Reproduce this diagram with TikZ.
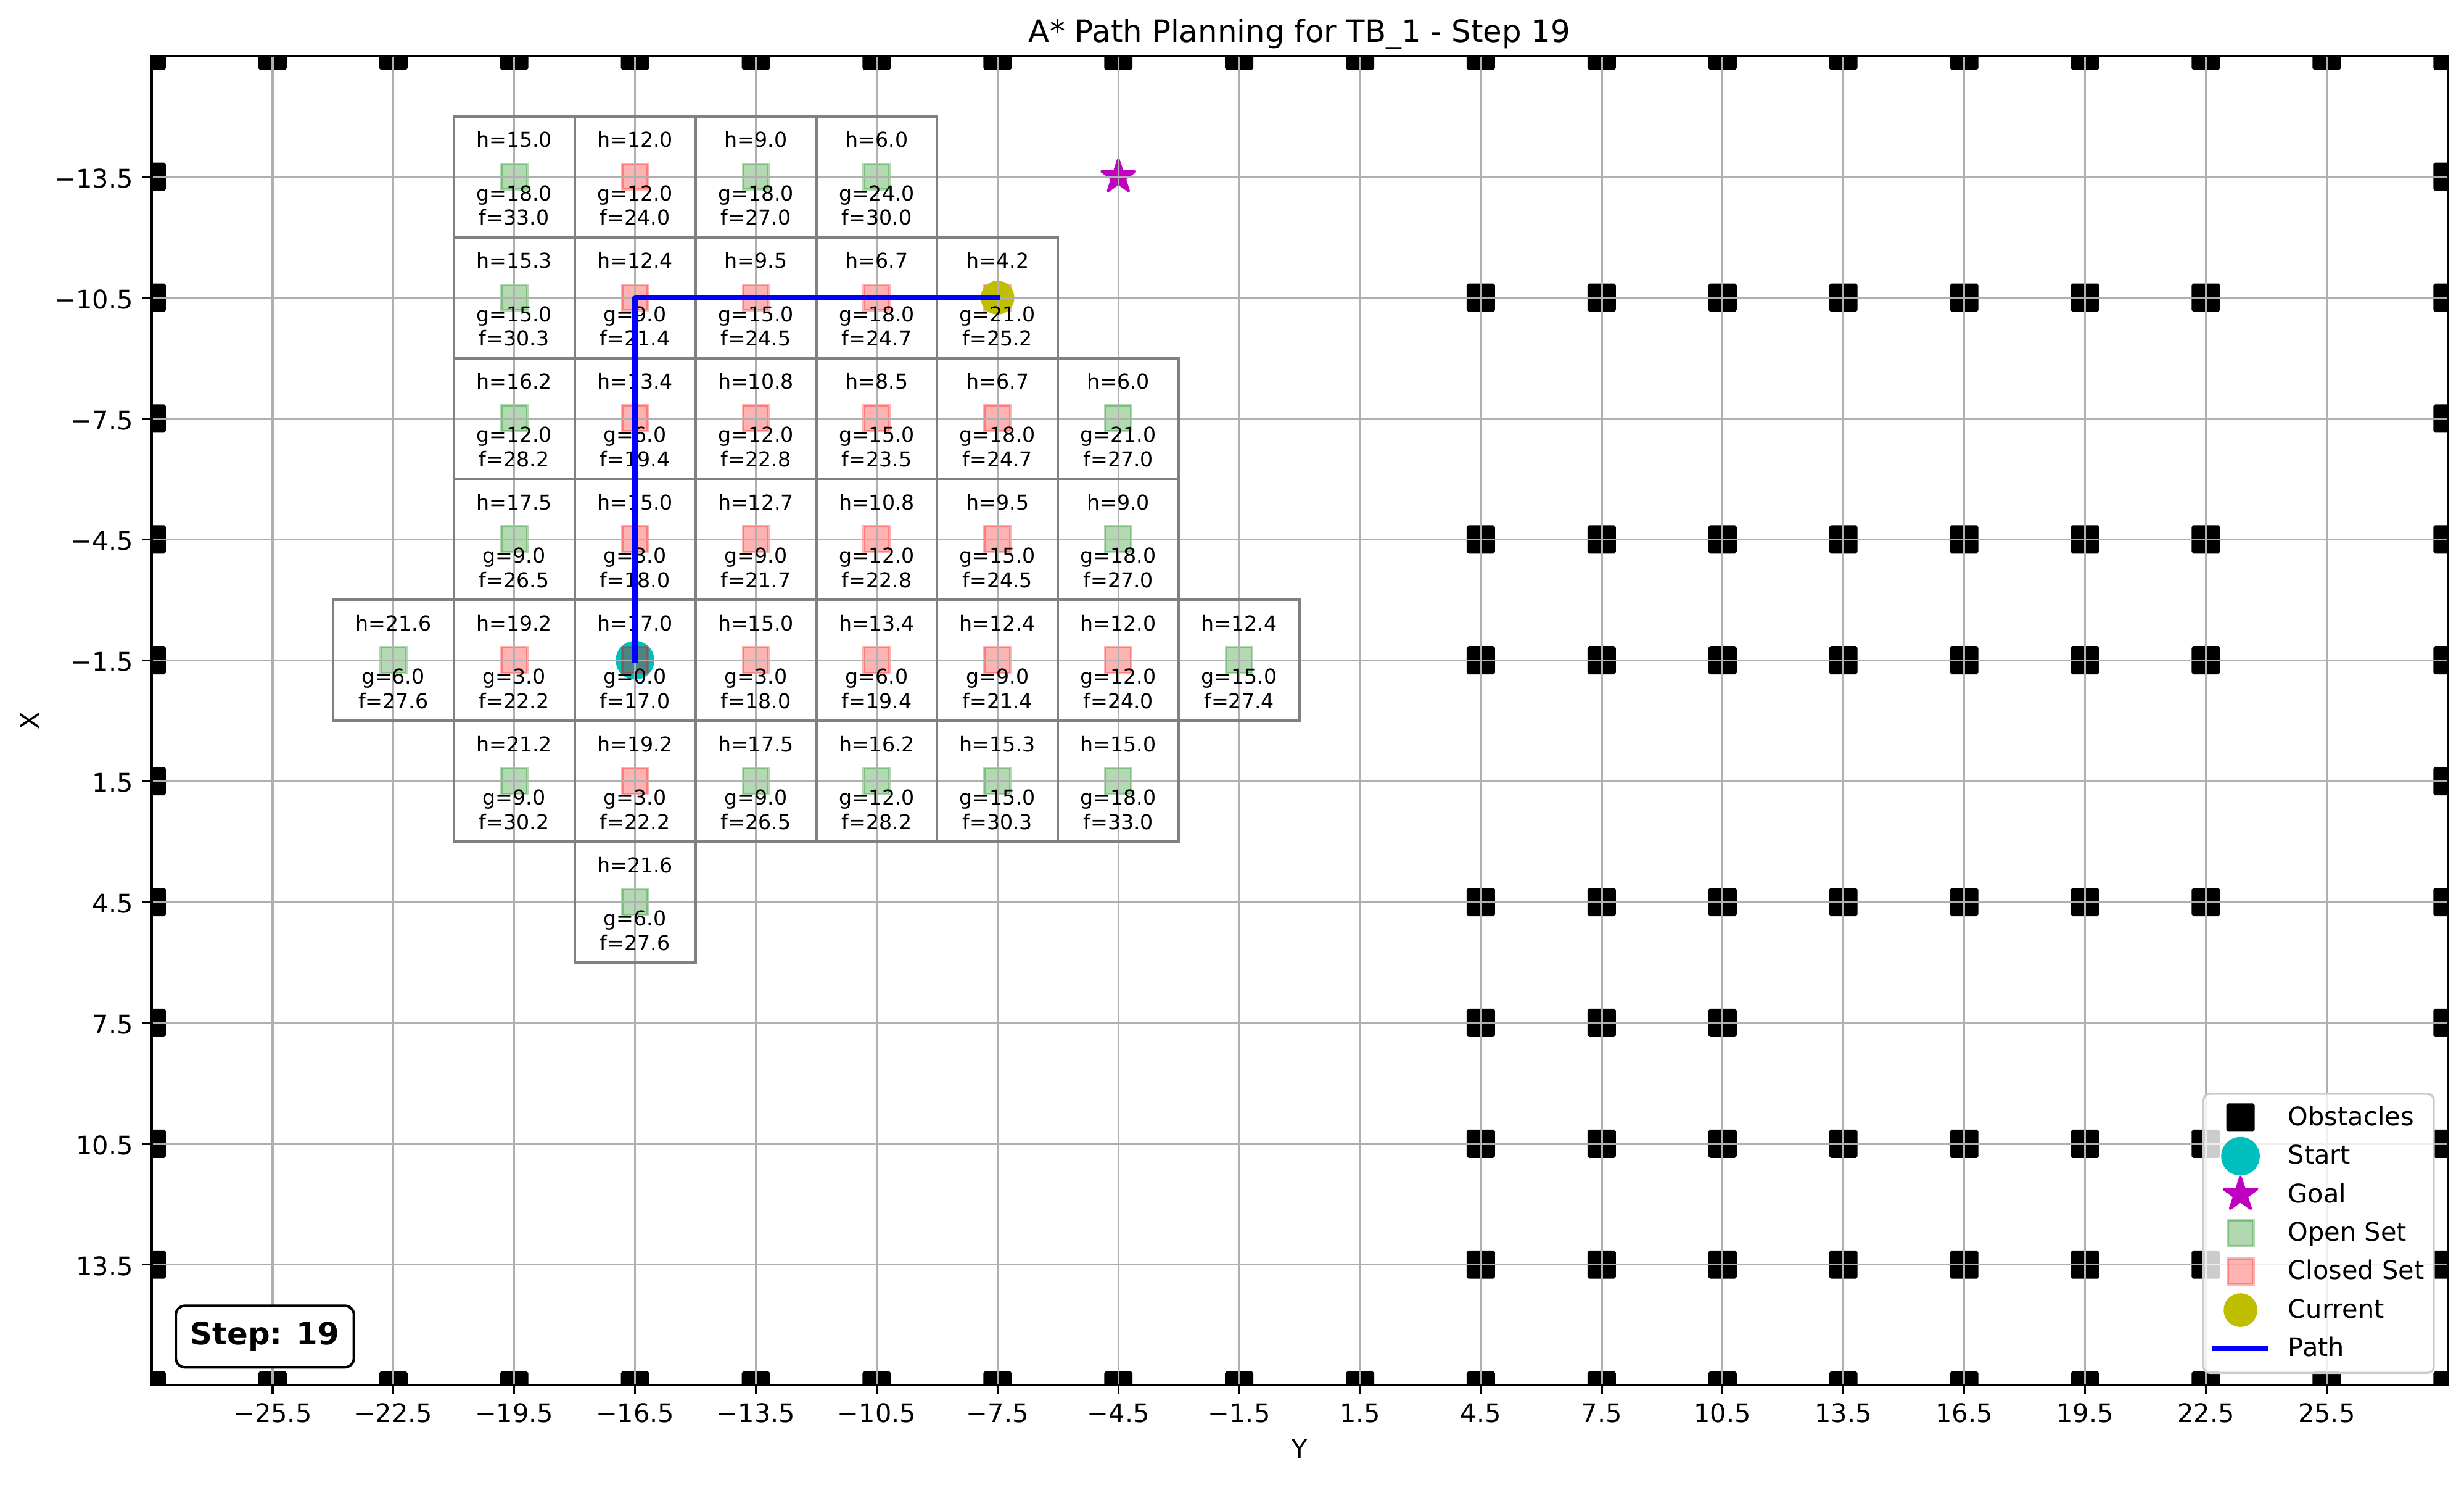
\documentclass[tikz,border=0pt]{standalone}
\usepackage{fontspec}
\setmainfont{DejaVu Sans}
\usepackage{tikz}
\usetikzlibrary{shapes.geometric}
\definecolor{mplGreen}{rgb}{0,0.5,0}
\definecolor{mplRed}{rgb}{1,0,0}
\definecolor{mplCyan}{rgb}{0,0.75,0.75}
\definecolor{mplMagenta}{rgb}{0.75,0,0.75}
\definecolor{mplYellow}{rgb}{0.75,0.75,0}
\definecolor{gridGray}{HTML}{B0B0B0}
\definecolor{boxGray}{HTML}{808080}
\definecolor{legEdge}{HTML}{CCCCCC}
% x / y / set / h / g / f
\newcommand\cellData{-19.5/-13.5/mplGreen/15.0/18.0/33.0,-16.5/-13.5/mplRed/12.0/12.0/24.0,
  -13.5/-13.5/mplGreen/9.0/18.0/27.0,-10.5/-13.5/mplGreen/6.0/24.0/30.0,
  -19.5/-10.5/mplGreen/15.3/15.0/30.3,-16.5/-10.5/mplRed/12.4/9.0/21.4,-13.5/-10.5/mplRed/9.5/15.0/24.5,
  -10.5/-10.5/mplRed/6.7/18.0/24.7,-7.5/-10.5/mplRed/4.2/21.0/25.2,
  -19.5/-7.5/mplGreen/16.2/12.0/28.2,-16.5/-7.5/mplRed/13.4/6.0/19.4,-13.5/-7.5/mplRed/10.8/12.0/22.8,
  -10.5/-7.5/mplRed/8.5/15.0/23.5,-7.5/-7.5/mplRed/6.7/18.0/24.7,-4.5/-7.5/mplGreen/6.0/21.0/27.0,
  -19.5/-4.5/mplGreen/17.5/9.0/26.5,-16.5/-4.5/mplRed/15.0/3.0/18.0,-13.5/-4.5/mplRed/12.7/9.0/21.7,
  -10.5/-4.5/mplRed/10.8/12.0/22.8,-7.5/-4.5/mplRed/9.5/15.0/24.5,-4.5/-4.5/mplGreen/9.0/18.0/27.0,
  -22.5/-1.5/mplGreen/21.6/6.0/27.6,-19.5/-1.5/mplRed/19.2/3.0/22.2,-16.5/-1.5/mplRed/17.0/0.0/17.0,
  -13.5/-1.5/mplRed/15.0/3.0/18.0,-10.5/-1.5/mplRed/13.4/6.0/19.4,-7.5/-1.5/mplRed/12.4/9.0/21.4,
  -4.5/-1.5/mplRed/12.0/12.0/24.0,-1.5/-1.5/mplGreen/12.4/15.0/27.4,
  -19.5/1.5/mplGreen/21.2/9.0/30.2,-16.5/1.5/mplRed/19.2/3.0/22.2,-13.5/1.5/mplGreen/17.5/9.0/26.5,
  -10.5/1.5/mplGreen/16.2/12.0/28.2,-7.5/1.5/mplGreen/15.3/15.0/30.3,-4.5/1.5/mplGreen/15.0/18.0/33.0,
  -16.5/4.5/mplGreen/21.6/6.0/27.6}
\newcommand\wallRows{-10.5,-4.5,-1.5,4.5,10.5,13.5}
\newcommand\xTicks{-25.5,-22.5,-19.5,-16.5,-13.5,-10.5,-7.5,-4.5,-1.5,1.5,4.5,7.5,10.5,13.5,16.5,19.5,22.5,25.5}
\newcommand\yTicks{-13.5,-10.5,-7.5,-4.5,-1.5,1.5,4.5,7.5,10.5,13.5}

\begin{document}
\begin{tikzpicture}[x=0.5529cm,y=-0.5529cm,font=\fontsize{8}{9.6}\selectfont,
    obst/.style={fill=black,draw=black,line width=1pt,minimum size=0.354cm,inner sep=0,rounded corners=0.4pt},
    sq/.style={draw=#1,fill=#1,fill opacity=0.3,draw opacity=0.3,line width=1pt,minimum size=0.354cm,inner sep=0},
    cellbox/.style={draw=boxGray,line width=1pt,minimum size=1.6586cm,inner sep=0},
    celltxt/.style={anchor=base,inner sep=0},
    gridln/.style={gridGray,line width=0.8pt},
    tickln/.style={black,line width=0.8pt},
    pathln/.style={blue,line width=2pt,line cap=rect,line join=round},
    startpt/.style={circle,fill=mplCyan,minimum size=0.53cm,inner sep=0},
    goalpt/.style={star,star points=5,star point ratio=2.618,fill=mplMagenta,draw=mplMagenta,
      line width=1pt,line join=round,minimum size=0.48cm,inner sep=0},
    currpt/.style={circle,fill=mplYellow,minimum size=0.463cm,inner sep=0},
    ticklbl/.style={font=\fontsize{10}{12}\selectfont,inner sep=0},
    legtxt/.style={font=\fontsize{10}{12}\selectfont,inner sep=0,anchor=base west}]
  \useasboundingbox (-32.267,-17.889) rectangle (28.91,18.956);

  \begin{scope}
    \clip (-28.5,-16.5) rectangle (28.5,16.5);
    \foreach \v [count=\i] in {-28.5,-25.5,...,28.5} {
      \node[obst] (wt\i) at (\v,-16.5) {};
      \node[obst] (wb\i) at (\v,16.5) {};
    }
    \foreach \v [count=\i] in \yTicks {
      \node[obst] (wl\i) at (-28.5,\v) {};
      \node[obst] (wr\i) at (28.5,\v) {};
    }
    \foreach \r [count=\j] in \wallRows
      \foreach \v [count=\i] in {4.5,7.5,...,22.5}
        \node[obst] (w\j-\i) at (\v,\r) {};
    \foreach \v [count=\i] in {4.5,7.5,10.5}
      \node[obst] (wm\i) at (\v,7.5) {};
  \end{scope}

  \node[startpt] (start) at (-16.5,-1.5) {};
  \node[goalpt] (goal) at (-4.5,-13.5) {};
  \foreach \cx/\cy/\cc/\hv/\gv/\fv [count=\i] in \cellData
    \node[sq=\cc] (s\i) at (\cx,\cy) {};
  \node[currpt] (cur) at (-7.5,-10.5) {};

  \foreach \v in \xTicks
    \draw[gridln] (\v,-16.5) -- (\v,16.5);
  \foreach \v in \yTicks
    \draw[gridln] (-28.5,\v) -- (28.5,\v);

  \foreach \cx/\cy/\cc/\hv/\gv/\fv [count=\i] in \cellData {
    \node[cellbox] (cell\i) at (\cx,\cy) {};
    \node[celltxt] (h\i) at (\cx,{\cy-0.73}) {h=\hv};
    \node[celltxt] (g\i) at (\cx,{\cy+0.59}) {g=\gv};
    \node[celltxt] (f\i) at (\cx,{\cy+1.2}) {f=\fv};
  }

  \draw[pathln] (start.center) |- (cur.center);

  \draw[tickln] (-28.5,-16.5) rectangle (28.5,16.5);
  \foreach \v in \xTicks
    \draw[tickln] (\v,16.5) -- ++(0,0.223);
  \foreach \v in \yTicks
    \draw[tickln] (-28.5,\v) -- ++(-0.223,0);
  \foreach \v [count=\i] in {25.5,22.5,19.5,16.5,13.5,10.5,7.5,4.5,1.5} {
    \node[ticklbl,anchor=base] (xn\i) at (-\v,17.42) {−\v};
    \node[ticklbl,anchor=base] (xp\i) at (\v,17.42) {\v};
  }
  \foreach \v [count=\i] in {13.5,10.5,7.5,4.5,1.5} {
    \node[ticklbl,anchor=base east] (yn\i) at (-28.95,{-\v+0.27}) {−\v};
    \node[ticklbl,anchor=base east] (yp\i) at (-28.95,{\v+0.27}) {\v};
  }

  \node[font=\fontsize{12}{14.4}\selectfont,anchor=base,inner sep=0] (title) at (0,-16.846)
    {A* Path Planning for TB\_1 - Step 19};
  \node[ticklbl,anchor=base] (ylabel) at (0,18.31) {Y};
  \node[ticklbl,anchor=base,rotate=90] (xlabel) at (-31.30,0) {X};

  \node[draw=black,fill=white,line width=1pt,rounded corners=3.6pt,minimum width=2.444cm,
    minimum height=0.846cm,inner sep=0,font=\fontsize{12}{14.4}\selectfont\bfseries]
    (step) at (-25.69,15.285) {Step: 19};

  \node[draw=legEdge,fill=white,fill opacity=0.8,line width=0.8pt,rounded corners=2.5pt,
    minimum width=3.162cm,minimum height=3.831cm,inner sep=0] (legend) at (25.30,12.725) {};
  \node[obst] (k1) at (23.36,9.85) {};
  \node[startpt] (k2) at (23.36,10.81) {};
  \node[goalpt] (k3) at (23.36,11.76) {};
  \node[sq=mplGreen] (k4) at (23.36,12.72) {};
  \node[sq=mplRed] (k5) at (23.36,13.67) {};
  \node[currpt] (k6) at (23.36,14.63) {};
  \coordinate (k7a) at (22.715,15.58);
  \coordinate (k7b) at (23.99,15.58);
  \draw[pathln] (k7a) -- (k7b);
  \foreach \lbl [count=\i] in {Obstacles,Start,Goal,Open Set,Closed Set,Current,Path}
    \node[legtxt] (t\i) at (24.53,{9.85+0.955*(\i-1)+0.2}) {\lbl};
\end{tikzpicture}
\end{document}
